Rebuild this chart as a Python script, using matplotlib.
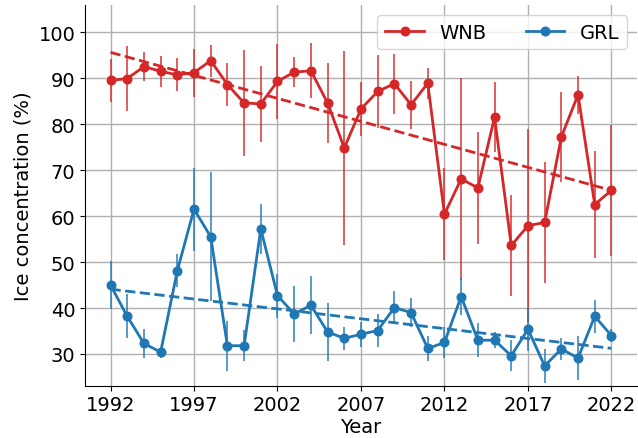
import numpy as np
import matplotlib
matplotlib.use("Agg")
import matplotlib.pyplot as plt

years = list(range(1992, 2023))

wnb = [89.5, 89.9, 92.5, 91.5, 90.7, 91.2, 93.8, 88.6, 84.6, 84.4,
       89.3, 91.3, 91.6, 84.6, 74.8, 83.3, 87.1, 88.8, 84.2, 88.9,
       60.4, 68.1, 66.1, 81.5, 53.6, 57.9, 58.6, 77.2, 86.4, 62.5, 65.6]
wnb_err = [4.7, 7.1, 3.2, 3.4, 3.6, 5.2, 3.5, 4.6, 11.5, 8.2,
           8.2, 3.2, 6.0, 8.7, 21.0, 5.8, 7.9, 6.5, 5.2, 3.4,
           10.0, 22.0, 12.2, 7.6, 11.0, 21.0, 13.1, 9.7, 4.1, 11.7, 14.2]

grl = [45.0, 38.2, 32.3, 30.4, 48.1, 61.5, 55.5, 31.8, 31.8, 57.2,
       42.7, 38.7, 40.6, 34.8, 33.4, 34.3, 35.1, 40.1, 39.0, 31.2,
       32.5, 42.5, 33.0, 33.0, 29.6, 35.4, 27.4, 31.1, 29.1, 38.2, 34.0]
grl_err = [5.3, 4.8, 3.2, 1.2, 3.6, 9.0, 14.0, 5.4, 3.4, 5.4,
           4.8, 6.1, 6.3, 6.3, 2.5, 2.7, 3.6, 3.6, 3.2, 2.7,
           3.3, 4.1, 3.7, 1.8, 3.4, 4.7, 3.7, 2.3, 4.8, 3.6, 1.5]

xticks = [1992, 1997, 2002, 2007, 2012, 2017, 2022]

plt.rcParams['font.family'] = ['DejaVu Sans']
plt.rcParams['font.size'] = 14

fig = plt.figure(figsize=(6.38, 4.39), dpi=100)
ax = fig.add_axes([0.1332, 0.1191, 0.8652, 0.8672])

x = np.array(years)
for vals, errs, col, lab in [(wnb, wnb_err, '#d62728', 'WNB'),
                             (grl, grl_err, '#1f77b4', 'GRL')]:
    ax.errorbar(x, vals, yerr=errs, fmt='none', ecolor=col, elinewidth=1.3,
                alpha=0.8, zorder=2)
    ax.plot(x, vals, '-o', color=col, lw=2, ms=6.2, label=lab, zorder=3)
    p = np.polyfit(x, vals, 1)
    ax.plot(x, np.polyval(p, x), '--', color=col, lw=2, zorder=3)

ax.set_xlim(1990.47, 2023.53)
ax.set_ylim(23.1, 105.9)
ax.set_xticks(xticks)
ax.set_xticklabels([str(t) for t in xticks])
ax.grid(True, color='#b0b0b0', lw=1)
ax.set_axisbelow(True)
ax.spines['top'].set_visible(False)
ax.spines['right'].set_visible(False)
ax.set_xlabel('Year', labelpad=2)
ax.set_ylabel('Ice concentration (%)', labelpad=4)
ax.legend(loc='upper right', ncol=2, fontsize=14)

fig.savefig('out.png', dpi=100)
